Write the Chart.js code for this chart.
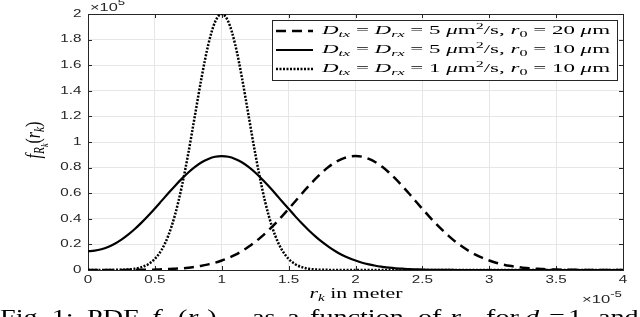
<!DOCTYPE html>
<html>
<head>
<meta charset="utf-8">
<script src="https://cdn.jsdelivr.net/npm/chart.js@4.4.1/dist/chart.umd.min.js"></script>
<style>
html, body { margin: 0; padding: 0; background: #fff; overflow: hidden; }
canvas { display: block; }
</style>
</head>
<body>
<canvas id="pdf-chart" width="640" height="317"></canvas>
<script>
// r_k in units of 1e-5 m, pdf values in units of 1e5
const rk = [
    0, 0.05, 0.1, 0.15, 0.2, 0.25, 0.3, 0.35, 0.4, 0.45,
    0.5, 0.55, 0.6, 0.65, 0.7, 0.75, 0.8, 0.85, 0.9, 0.95,
    1, 1.05, 1.1, 1.15, 1.2, 1.25, 1.3, 1.35, 1.4, 1.45,
    1.5, 1.55, 1.6, 1.65, 1.7, 1.75, 1.8, 1.85, 1.9, 1.95,
    2, 2.05, 2.1, 2.15, 2.2, 2.25, 2.3, 2.35, 2.4, 2.45,
    2.5, 2.55, 2.6, 2.65, 2.7, 2.75, 2.8, 2.85, 2.9, 2.95,
    3, 3.05, 3.1, 3.15, 3.2, 3.25, 3.3, 3.35, 3.4, 3.45,
    3.5, 3.55, 3.6, 3.65, 3.7, 3.75, 3.8, 3.85, 3.9, 3.95, 4
];
// D = 5, r0 = 20 (dashed)
const pdfD5r20 = [
    0, 0, 0, 0, 0, 0, 0.001, 0.001, 0.002, 0.002,
    0.003, 0.005, 0.007, 0.010, 0.013, 0.018, 0.025, 0.033, 0.044, 0.057,
    0.074, 0.094, 0.118, 0.147, 0.181, 0.219, 0.263, 0.311, 0.363, 0.419,
    0.478, 0.537, 0.598, 0.656, 0.711, 0.762, 0.806, 0.842, 0.868, 0.885,
    0.890, 0.885, 0.868, 0.842, 0.806, 0.762, 0.711, 0.656, 0.598, 0.537,
    0.478, 0.419, 0.363, 0.311, 0.263, 0.219, 0.181, 0.147, 0.118, 0.094,
    0.074, 0.057, 0.044, 0.033, 0.025, 0.018, 0.013, 0.010, 0.007, 0.005,
    0.003, 0.002, 0.002, 0.001, 0.001, 0, 0, 0, 0, 0, 0
];
// D = 5, r0 = 10 (solid)
const pdfD5r10 = [
    0.147, 0.151, 0.162, 0.180, 0.205, 0.237, 0.276, 0.320, 0.370, 0.424,
    0.481, 0.540, 0.599, 0.657, 0.712, 0.762, 0.806, 0.842, 0.868, 0.885,
    0.890, 0.885, 0.868, 0.842, 0.806, 0.762, 0.711, 0.656, 0.598, 0.537,
    0.478, 0.419, 0.363, 0.311, 0.263, 0.219, 0.181, 0.147, 0.118, 0.094,
    0.074, 0.057, 0.044, 0.033, 0.025, 0.018, 0.013, 0.010, 0.007, 0.005,
    0.003, 0.002, 0.002, 0.001, 0.001, 0, 0, 0, 0, 0,
    0, 0, 0, 0, 0, 0, 0, 0, 0, 0,
    0, 0, 0, 0, 0, 0, 0, 0, 0, 0, 0
];
// D = 1, r0 = 10 (dotted)
const pdfD1r10 = [
    0, 0, 0, 0, 0.001, 0.002, 0.004, 0.010, 0.022, 0.045,
    0.087, 0.157, 0.268, 0.429, 0.646, 0.912, 1.210, 1.508, 1.764, 1.938,
    2.000, 1.938, 1.764, 1.508, 1.210, 0.912, 0.646, 0.429, 0.268, 0.157,
    0.087, 0.045, 0.022, 0.010, 0.004, 0.002, 0.001, 0, 0, 0,
    0, 0, 0, 0, 0, 0, 0, 0, 0, 0,
    0, 0, 0, 0, 0, 0, 0, 0, 0, 0,
    0, 0, 0, 0, 0, 0, 0, 0, 0, 0,
    0, 0, 0, 0, 0, 0, 0, 0, 0, 0, 0
];

const xTicks = [0, 0.5, 1, 1.5, 2, 2.5, 3, 3.5, 4];
const xTickLabels = ['0', '0.5', '1', '1.5', '2', '2.5', '3', '3.5', '4'];
const yTicks = [0, 0.2, 0.4, 0.6, 0.8, 1, 1.2, 1.4, 1.6, 1.8, 2];
const yTickLabels = ['0', '0.2', '0.4', '0.6', '0.8', '1', '1.2', '1.4', '1.6', '1.8', '2'];

const legendDiff = ['5', '5', '1'];
const legendR0 = ['20', '10', '10'];

const SANS = '"Liberation Sans", Arial, sans-serif';
const SERIF = '"Liberation Serif", "DejaVu Serif", serif';
const AXIS_COLOR = '#262626';

const lineStyles = [
    { dash: [10, 6], width: 2.5 },
    { dash: [], width: 2.2 },
    { dash: [2, 1.5], width: 2.5 }
];

function toPoints(ys) {
    return rk.map((x, i) => ({ x: x, y: ys[i] }));
}

function segFont(seg, size, family) {
    return (seg.it ? 'italic ' : '') + (size * (seg.sc || 1)).toFixed(2) + 'px ' + family;
}

function richWidth(ctx, segs, size, family) {
    let w = 0;
    segs.forEach(seg => {
        ctx.font = segFont(seg, size, family);
        w += ctx.measureText(seg.t).width;
    });
    return w;
}

function drawRich(ctx, segs, x, y, o) {
    const w = richWidth(ctx, segs, o.size, o.family);
    const sx = o.width ? o.width / w : (o.sx || 1);
    let x0 = x;
    if (o.align === 'center') x0 = x - w * sx / 2;
    else if (o.align === 'right') x0 = x - w * sx;
    ctx.save();
    ctx.translate(x0, y);
    ctx.scale(sx, o.sy || 1);
    ctx.fillStyle = o.color || '#000';
    ctx.textAlign = 'left';
    ctx.textBaseline = o.baseline || 'alphabetic';
    let cx = 0;
    segs.forEach(seg => {
        ctx.font = segFont(seg, o.size, o.family);
        ctx.fillText(seg.t, cx, (seg.dy || 0) * o.size);
        cx += ctx.measureText(seg.t).width;
    });
    ctx.restore();
}

function legendSegs(d, r0) {
    return [
        { t: 'D', it: 1 }, { t: 'tx', it: 1, sc: 0.7, dy: 0.22 },
        { t: ' = ' },
        { t: 'D', it: 1 }, { t: 'rx', it: 1, sc: 0.7, dy: 0.22 },
        { t: ' = ' + d + ' ' },
        { t: 'μ', it: 1 }, { t: 'm' }, { t: '2', sc: 0.7, dy: -0.38 },
        { t: '/s, ' },
        { t: 'r', it: 1 }, { t: '0', sc: 0.7, dy: 0.22 },
        { t: ' = ' + r0 + ' ' },
        { t: 'μ', it: 1 }, { t: 'm' }
    ];
}

const boxPlugin = {
    id: 'matlabBox',
    beforeDatasetsDraw(chart) {
        const { ctx, chartArea: a } = chart;
        ctx.save();
        ctx.strokeStyle = AXIS_COLOR;
        ctx.lineWidth = 1;
        ctx.strokeRect(Math.round(a.left) + 0.5, Math.round(a.top) + 0.5,
            Math.round(a.right - a.left), Math.round(a.bottom - a.top));
        // inward ticks
        ctx.beginPath();
        const xs = chart.scales.x, ys = chart.scales.y;
        xTicks.forEach(v => {
            const px = Math.round(xs.getPixelForValue(v)) + 0.5;
            ctx.moveTo(px, a.bottom); ctx.lineTo(px, a.bottom - 4);
            ctx.moveTo(px, a.top); ctx.lineTo(px, a.top + 4);
        });
        yTicks.forEach(v => {
            const py = Math.round(ys.getPixelForValue(v)) + 0.5;
            ctx.moveTo(a.left, py); ctx.lineTo(a.left + 4, py);
            ctx.moveTo(a.right, py); ctx.lineTo(a.right - 4, py);
        });
        ctx.stroke();
        ctx.restore();
    },
    afterDraw(chart) {
        const { ctx } = chart;
        const xs = chart.scales.x, ys = chart.scales.y;

        // tick labels
        xTicks.forEach((v, i) => {
            drawRich(ctx, [{ t: xTickLabels[i] }], xs.getPixelForValue(v), 280,
                { size: 10.5, family: SANS, sx: 1.45, align: 'center', baseline: 'middle', color: AXIS_COLOR });
        });
        yTicks.forEach((v, i) => {
            drawRich(ctx, [{ t: yTickLabels[i] }], 81.5, ys.getPixelForValue(v),
                { size: 10.5, family: SANS, sx: 1.45, align: 'right', baseline: 'middle', color: AXIS_COLOR });
        });

        // exponents
        drawRich(ctx, [{ t: '×' }, { t: '10' }, { t: '5', sc: 0.8, dy: -0.55 }], 90, 11,
            { size: 10.5, family: SANS, width: 35, color: AXIS_COLOR });
        drawRich(ctx, [{ t: '×' }, { t: '10' }, { t: '-5', sc: 0.8, dy: -0.55 }], 622, 303,
            { size: 10.5, family: SANS, width: 40, align: 'right', color: AXIS_COLOR });

        // axis titles
        drawRich(ctx, [{ t: 'r', it: 1 }, { t: 'k', it: 1, sc: 0.7, dy: 0.22 }, { t: ' in meter' }], 356, 297.5,
            { size: 14, family: SERIF, width: 93, align: 'center' });
        ctx.save();
        ctx.translate(40, 140);
        ctx.rotate(-Math.PI / 2);
        drawRich(ctx, [
            { t: 'f', it: 1 }, { t: 'R', it: 1, sc: 0.7, dy: 0.22 }, { t: 'k', it: 1, sc: 0.5, dy: 0.38 },
            { t: '(' }, { t: 'r', it: 1 }, { t: 'k', it: 1, sc: 0.7, dy: 0.22 }, { t: ')' }
        ], 0, 0, { size: 13.5, family: SERIF, width: 37, sy: 1.5, align: 'center' });
        ctx.restore();

        // legend
        ctx.save();
        ctx.fillStyle = '#fff';
        ctx.fillRect(272, 20, 345, 60);
        ctx.strokeStyle = AXIS_COLOR;
        ctx.lineWidth = 1;
        ctx.strokeRect(272.5, 20.5, 345, 60);
        ctx.restore();
        const rowY = [31, 50, 69];
        chart.data.datasets.forEach((ds, i) => {
            ctx.save();
            ctx.strokeStyle = '#000';
            ctx.lineWidth = ds.borderWidth;
            ctx.setLineDash(ds.borderDash || []);
            ctx.beginPath();
            ctx.moveTo(276, rowY[i]);
            ctx.lineTo(313, rowY[i]);
            ctx.stroke();
            ctx.restore();
            drawRich(ctx, legendSegs(legendDiff[i], legendR0[i]), 322, rowY[i] + 3,
                { size: 12.5, family: SERIF, width: 288 });
        });

        // caption (cut at the bottom of the picture)
        const cap = [
            { x: 0, s: [{ t: 'Fig. 1:' }] },
            { x: 87, s: [{ t: 'PDF' }] },
            { x: 152, s: [{ t: 'f', it: 1 }, { t: 'R', it: 1, sc: 0.7, dy: 0.22 }, { t: 'k', it: 1, sc: 0.5, dy: 0.38 },
                { t: '(' }, { t: 'r', it: 1 }, { t: 'k', it: 1, sc: 0.7, dy: 0.22 }, { t: ')' }] },
            { x: 252, s: [{ t: 'as' }] },
            { x: 287, s: [{ t: 'a' }] },
            { x: 310, s: [{ t: 'function' }] },
            { x: 418, s: [{ t: 'of' }] },
            { x: 450, s: [{ t: 'r', it: 1 }, { t: 'k', it: 1, sc: 0.7, dy: 0.22 }] },
            { x: 486, s: [{ t: 'for' }] },
            { x: 525, s: [{ t: 'd', it: 1 }, { t: 'k', it: 1, sc: 0.7, dy: 0.22 }] },
            { x: 549, s: [{ t: '=' }] },
            { x: 568, s: [{ t: '1' }] },
            { x: 598, s: [{ t: 'and' }] }
        ];
        cap.forEach(c => drawRich(ctx, c.s, c.x, 324, { size: 22, family: SERIF, sx: 1.28 }));
    }
};

const ctx = document.getElementById('pdf-chart').getContext('2d');
new Chart(ctx, {
    type: 'line',
    data: {
        datasets: [pdfD5r20, pdfD5r10, pdfD1r10].map((ys, i) => ({
            data: toPoints(ys),
            borderColor: '#000',
            borderWidth: lineStyles[i].width,
            borderDash: lineStyles[i].dash,
            borderCapStyle: 'butt',
            fill: false,
            pointRadius: 0,
            cubicInterpolationMode: 'monotone'
        }))
    },
    options: {
        responsive: false,
        animation: false,
        devicePixelRatio: 1,
        layout: { padding: { left: 0, right: 17, top: 14, bottom: 0 } },
        plugins: { legend: { display: false }, tooltip: { enabled: false } },
        scales: {
            x: {
                type: 'linear', min: 0, max: 4,
                afterBuildTicks: s => { s.ticks = xTicks.map(v => ({ value: v })); },
                afterFit: s => { s.height = 47; },
                ticks: { display: false },
                grid: { color: '#e6e6e6', drawTicks: false },
                border: { display: false }
            },
            y: {
                type: 'linear', min: 0, max: 2,
                afterBuildTicks: s => { s.ticks = yTicks.map(v => ({ value: v })); },
                afterFit: s => { s.width = 88; },
                ticks: { display: false },
                grid: { color: '#e6e6e6', drawTicks: false },
                border: { display: false }
            }
        }
    },
    plugins: [boxPlugin]
});
</script>
</body>
</html>
